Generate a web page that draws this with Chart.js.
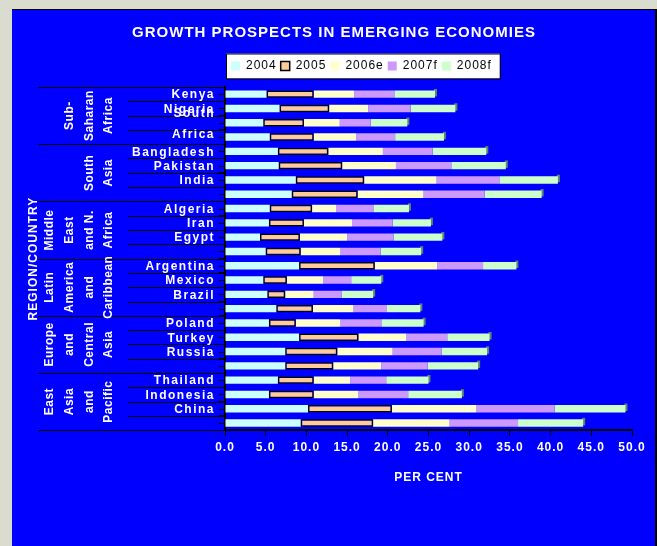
<!DOCTYPE html>
<html>
<head>
<meta charset="utf-8">
<title>Growth prospects in emerging economies</title>
<script src="https://cdn.jsdelivr.net/npm/chart.js@4.4.1/dist/chart.umd.min.js"></script>
<style>
  html, body { margin: 0; padding: 0; background: #dbdcd0; }
  canvas { display: block; }
</style>
</head>
<body>
<canvas id="growthChart" width="657" height="546"></canvas>
<script>
// --- DATA ---
const countries = [
    'Kenya', 'Nigeria', ['South', 'Africa'], '',
    'Bangladesh', 'Pakistan', 'India', '',
    'Algeria', 'Iran', 'Egypt', '',
    'Argentina', 'Mexico', 'Brazil', '',
    'Poland', 'Turkey', 'Russia', '',
    'Thailand', 'Indonesia', 'China', ''
];
const regions = [
    ['Sub-', 'Saharan', 'Africa'],
    ['South', 'Asia'],
    ['Middle', 'East', 'and N.', 'Africa'],
    ['Latin', 'America', 'and', 'Caribbean'],
    ['Europe', 'and', 'Central', 'Asia'],
    ['East', 'Asia', 'and', 'Pacific']
];
const rowsPerRegion = 4;
const seriesNames = ['2004', '2005', '2006e', '2007f', '2008f'];

const g2004  = [5.1, 6.7, 4.7, 5.5, 6.5, 6.6, 8.7, 8.2, 5.5, 5.4, 4.3, 5.0, 9.1, 4.7, 5.2, 6.3, 5.4, 9.1, 7.4, 7.4, 6.5, 5.4, 10.2, 9.3];
const g2005  = [5.8, 6.1, 5.0, 5.4, 6.2, 7.8, 8.4, 8.1, 5.2, 4.3, 4.9, 4.3, 9.3, 2.9, 2.2, 4.5, 3.3, 7.3, 6.4, 5.9, 4.4, 5.5, 10.3, 8.9];
const g2006e = [5.0, 4.8, 4.4, 5.2, 6.7, 6.6, 8.9, 8.1, 3.0, 5.9, 5.8, 4.9, 7.7, 4.5, 3.5, 5.0, 5.5, 5.9, 6.8, 5.9, 4.5, 5.5, 10.4, 9.4];
const g2007f = [4.9, 5.2, 3.8, 4.8, 6.1, 6.8, 7.7, 7.5, 4.6, 5.0, 5.7, 4.9, 5.6, 3.4, 3.4, 4.1, 5.0, 5.0, 6.0, 5.7, 4.4, 6.1, 9.6, 8.4];
const g2008f = [5.0, 5.5, 4.5, 6.0, 6.6, 6.7, 7.2, 7.0, 4.3, 4.7, 6.0, 5.0, 4.1, 3.7, 3.9, 4.1, 5.2, 5.2, 5.6, 6.2, 5.2, 6.6, 8.7, 8.0];

const series = [g2004, g2005, g2006e, g2007f, g2008f];
const colours = ['#ccffff', '#ffcc99', '#ffffcc', '#cc99ff', '#ccffcc'];

const FONT = '"Liberation Sans", Arial, sans-serif';
Chart.defaults.font.family = FONT;

// --- PLUGINS ---
// blue panel, legend frame, bar depth
const backdrop = {
    id: 'backdrop',
    beforeUpdate(chart) { chart.ctx.letterSpacing = '1px'; },
    afterLayout(chart) {
        const t = chart.titleBlock;
        if (t) { t.left = 12; t.right = 656; }
        const lg = chart.legend;
        if (lg && lg.lineWidths) {
            const p = lg.options.labels.padding;
            lg.left = 231 - p;
            lg.right = 231 + lg.lineWidths[0];
            lg.top -= 5;
            lg.bottom -= 5;
        }
    },
    beforeDraw(chart) {
        const ctx = chart.ctx;
        ctx.letterSpacing = '1px';
        ctx.save();
        ctx.fillStyle = '#dbdcd0';
        ctx.fillRect(0, 0, chart.width, chart.height);
        ctx.fillStyle = '#0000ff';
        ctx.fillRect(12, 9, 644, chart.height - 9);
        ctx.fillStyle = '#000';
        ctx.fillRect(12, 9, 645, 1);
        ctx.fillRect(655, 9, 2, chart.height - 9);

        const hb = chart.legend && chart.legend.legendHitBoxes;
        if (hb && hb.length) {
            const first = hb[0], last = hb[hb.length - 1];
            const yc = first.top + first.height / 2;
            const x0 = first.left - 5, x1 = last.left + last.width + 8;
            ctx.fillStyle = '#fff';
            ctx.fillRect(x0, yc - 12.5, x1 - x0, 25);
            ctx.strokeStyle = '#000';
            ctx.lineWidth = 1;
            ctx.strokeRect(x0 + 0.5, yc - 12, x1 - x0, 25);
        }
        ctx.restore();
    },
    beforeDatasetsDraw(chart) {
        const ctx = chart.ctx;
        const meta = chart.getDatasetMeta(series.length - 1);
        ctx.save();
        ctx.fillStyle = '#5f8272';
        meta.data.forEach(bar => {
            const { x, y, height } = bar.getProps(['x', 'y', 'height'], true);
            ctx.fillRect(x - 1, y - height / 2 - 1.5, 3, height);
        });
        ctx.restore();
    }
};

// country names, region blocks and separator lines on the left
const regionLabels = {
    id: 'regionLabels',
    afterDraw(chart) {
        const ctx = chart.ctx;
        const y = chart.scales.y;
        const step = Math.abs(y.getPixelForValue(1) - y.getPixelForValue(0));
        const axisX = chart.chartArea.left;
        ctx.save();

        // separators
        ctx.strokeStyle = '#000';
        ctx.lineWidth = 1;
        for (let i = 0; i <= countries.length; i++) {
            const by = Math.round(y.getPixelForValue(i) - step / 2) + 0.5;
            const start = i % rowsPerRegion === 0 ? 38 : 128;
            ctx.beginPath();
            ctx.moveTo(start, by);
            ctx.lineTo(axisX, by);
            ctx.stroke();
        }
        // centre ticks
        countries.forEach((c, i) => {
            const py = Math.round(y.getPixelForValue(i)) + 0.5;
            ctx.beginPath();
            ctx.moveTo(axisX - 6, py);
            ctx.lineTo(axisX, py);
            ctx.stroke();
        });

        ctx.fillStyle = '#fff';
        ctx.font = 'bold 12px ' + FONT;
        ctx.textBaseline = 'middle';

        // country names
        ctx.letterSpacing = '1.5px';
        ctx.textAlign = 'right';
        countries.forEach((name, i) => {
            const py = y.getPixelForValue(i) + 1;
            const lines = Array.isArray(name) ? name : [name];
            lines.forEach((ln, k) => {
                ctx.fillText(ln, 215, py + (k - (lines.length - 1) / 2) * 21);
            });
        });

        // region names, rotated
        ctx.letterSpacing = '0.5px';
        ctx.textAlign = 'center';
        regions.forEach((lines, r) => {
            const cy = (y.getPixelForValue(r * rowsPerRegion) + y.getPixelForValue(r * rowsPerRegion + rowsPerRegion - 1)) / 2;
            lines.forEach((ln, k) => {
                const cx = 109 - (lines.length - 1 - k) * 19.7;
                ctx.save();
                ctx.translate(cx, cy);
                ctx.rotate(-Math.PI / 2);
                ctx.fillText(ln, 0, 0);
                ctx.restore();
            });
        });
        ctx.restore();
    }
};

// --- CHART ---
const chart = new Chart(document.getElementById('growthChart'), {
    type: 'bar',
    data: {
        labels: countries,
        datasets: seriesNames.map((name, k) => ({
            label: name,
            data: series[k],
            backgroundColor: colours[k],
            borderColor: '#000',
            borderWidth: k === 1 ? 1.5 : 0,
            borderSkipped: false,
            barPercentage: 0.52,
            categoryPercentage: 1
        }))
    },
    options: {
        indexAxis: 'y',
        responsive: false,
        animation: false,
        layout: { padding: { top: 19, left: 0, right: 25, bottom: 57 } },
        plugins: {
            title: {
                display: true,
                text: 'GROWTH PROSPECTS IN EMERGING ECONOMIES',
                color: '#fff',
                font: { size: 15, weight: 'bold' },
                padding: { top: 5, bottom: 19 }
            },
            legend: {
                labels: {
                    color: '#000',
                    font: { size: 12 },
                    boxWidth: 9,
                    boxHeight: 9,
                    padding: 4
                }
            },
            tooltip: { enabled: false }
        },
        scales: {
            x: {
                stacked: true,
                min: 0,
                max: 50,
                grid: { drawOnChartArea: false, color: '#000', tickLength: 6 },
                border: { color: '#000', width: 2 },
                ticks: {
                    stepSize: 5,
                    color: '#fff',
                    font: { size: 12, weight: 'bold' },
                    padding: 4,
                    maxRotation: 0,
                    autoSkip: false,
                    callback: v => v.toFixed(1)
                },
                title: {
                    display: true,
                    text: 'PER CENT',
                    color: '#fff',
                    font: { size: 12, weight: 'bold' },
                    padding: { top: 12, bottom: 4 }
                }
            },
            y: {
                stacked: true,
                grid: { drawOnChartArea: false, color: '#000', tickLength: 6, offset: true },
                border: { color: '#000', width: 2 },
                ticks: { display: false },
                title: {
                    display: true,
                    text: 'REGION/COUNTRY',
                    color: '#fff',
                    font: { size: 12, weight: 'bold' },
                    padding: { top: 26, bottom: 0 }
                },
                afterFit(scale) { scale.width = 225; }
            }
        }
    },
    plugins: [backdrop, regionLabels]
});
</script>
</body>
</html>
